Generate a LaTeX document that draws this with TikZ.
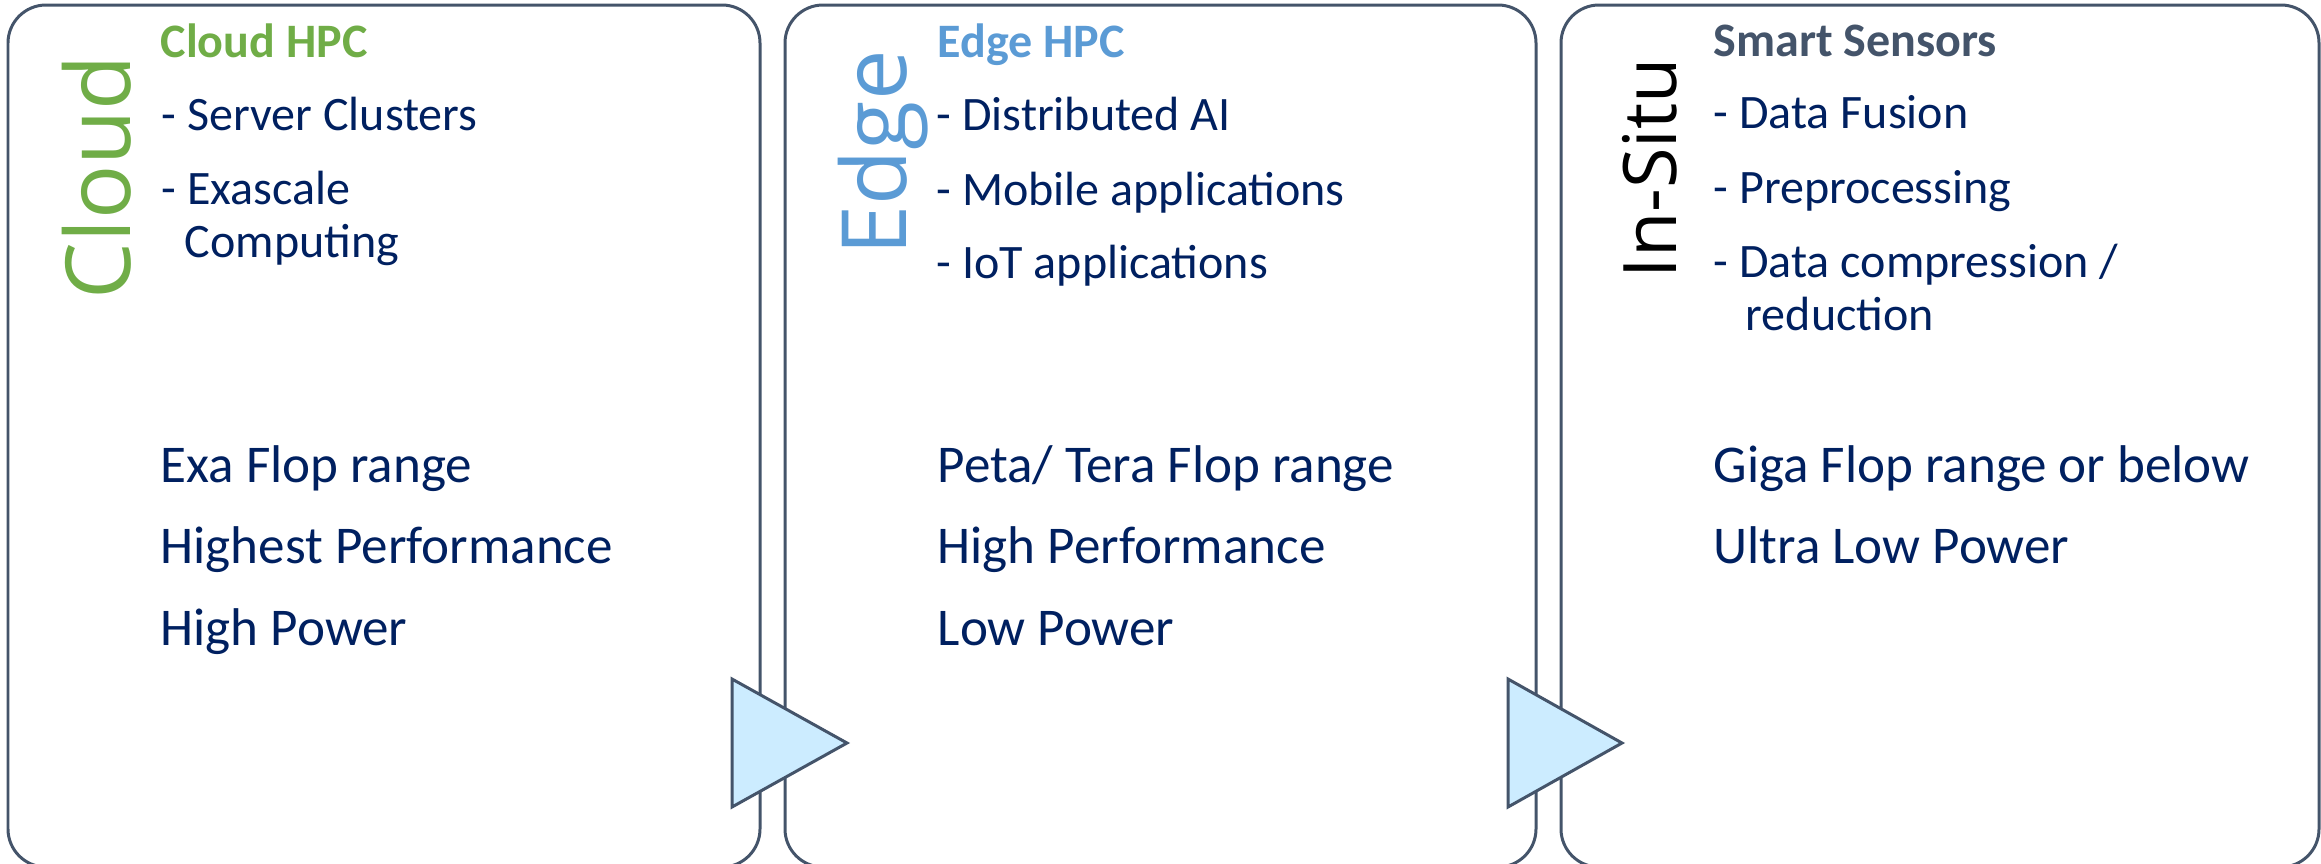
\documentclass[tikz,border=0pt]{standalone}
\usepackage{fontspec}
\setmainfont{Carlito}
\newfontfamily\vertfont{Open Sans}
\usetikzlibrary{positioning}
\definecolor{slate}{HTML}{44546A}
\definecolor{navy}{HTML}{002060}
\definecolor{cloudgreen}{HTML}{70AD47}
\definecolor{edgeblue}{HTML}{5B9BD5}
\definecolor{arrowfill}{HTML}{CCECFF}
\tikzset{
    x=0.01cm, y=-0.01cm,
    panel/.style = {draw=slate, line width=0.85pt, rounded corners=0.38cm},
    flow/.style = {draw=slate, fill=arrowfill, line width=0.85pt, line join=miter},
    vert/.style = {rotate=90, anchor=base west, inner sep=0pt, font=\vertfont\fontsize{25.6}{30}\selectfont},
    head/.style = {anchor=base west, inner sep=0pt, font=\bfseries\fontsize{13.66}{16}\selectfont},
    item/.style = {anchor=base west, inner sep=0pt, text=navy, font=\fontsize{13.66}{16}\selectfont},
    perf/.style = {anchor=base west, inner sep=0pt, text=navy, font=\fontsize{15.1}{18}\selectfont}
}

\begin{document}
\begin{tikzpicture}
    \useasboundingbox (0,0) rectangle (2321,863);
    % panels
    \draw[panel] (8,5) rectangle (760,867);
    \draw[panel] (785,5) rectangle (1536,867);
    \draw[panel] (1561,5) rectangle (2319,867);

    % cloud
    \node (cl) at (130,300) [vert, text=cloudgreen] {Cloud};
    \node (clh) at (160,57) [head, text=cloudgreen] {Cloud HPC};
    \node (cl1) at (161,130) [item] {- Server Clusters};
    \node (cl2) at (161,204) [item] {- Exascale};
    \node (cl3) at (184,257) [item] {Computing};
    \node (clp1) at (160,482) [perf] {Exa Flop range};
    \node (clp2) at (160,563) [perf] {Highest Performance};
    \node (clp3) at (160,645) [perf] {High Power};

    % edge
    \node (ed) at (906,256) [vert, text=edgeblue] {Edge};
    \node (edh) at (937,57) [head, text=edgeblue] {Edge HPC};
    \node (ed1) at (936,130) [item] {- Distributed AI};
    \node (ed2) at (936,205) [item] {- Mobile applications};
    \node (ed3) at (936,278) [item] {- IoT applications};
    \node (edp1) at (937,482) [perf] {Peta/ Tera Flop range};
    \node (edp2) at (937,563) [perf] {High Performance};
    \node (edp3) at (937,645) [perf] {Low Power};

    % in-situ
    \node (is) at (1676,279) [vert, text=black, font=\vertfont\fontsize{21}{25}\selectfont] {In-Situ};
    \node (ish) at (1713,56) [head, text=slate] {Smart Sensors};
    \node (is1) at (1713,128) [item] {- Data Fusion};
    \node (is2) at (1713,203) [item] {- Preprocessing};
    \node (is3) at (1713,277) [item] {- Data compression /};
    \node (is4) at (1745,330) [item] {reduction};
    \node (isp1) at (1713,482) [perf] {Giga Flop range or below};
    \node (isp2) at (1713,563) [perf] {Ultra Low Power};

    % arrows
    \draw[flow] (732,679) -- (847,743) -- (732,807) -- cycle;
    \draw[flow] (1508,679) -- (1622,743) -- (1508,807) -- cycle;
\end{tikzpicture}
\end{document}
